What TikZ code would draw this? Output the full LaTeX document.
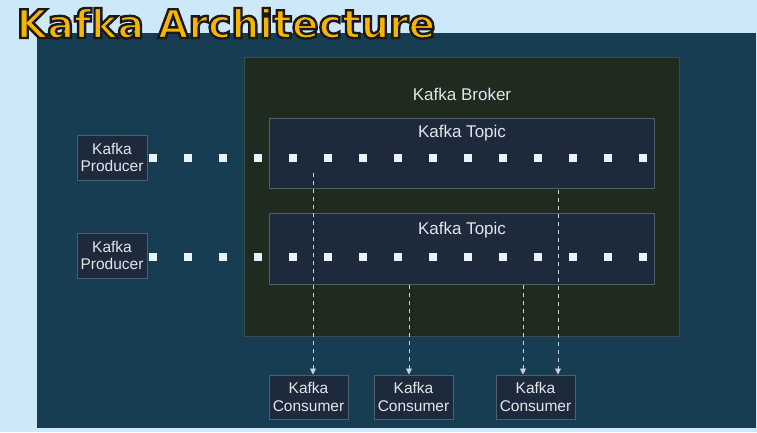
\documentclass[tikz,border=0pt]{standalone}
\usepackage{fontspec}
\setmainfont{Liberation Sans}
\newfontfamily\titlefont{DejaVu Sans}
\usetikzlibrary{arrows.meta,calc}
\definecolor{bgsky}{HTML}{CDE8F8}
\definecolor{panel}{HTML}{163D52}
\definecolor{broker}{HTML}{1F2B1F}
\definecolor{boxfill}{HTML}{1C2A3C}
\definecolor{boxline}{HTML}{4E5F6E}
\definecolor{txt}{HTML}{E2E6EA}
\definecolor{dotc}{HTML}{EAF2FA}
\definecolor{arrowc}{HTML}{C9D3DC}
\definecolor{titley}{HTML}{F7B500}
\tikzset{
  smallbox/.style={draw=boxline, line width=1pt, fill=boxfill, text=txt, align=center, inner sep=2pt, font=\fontsize{15.5}{17.5}\selectfont},
  msg/.style={fill=dotc, minimum size=8pt, inner sep=0pt, draw=none},
  cons/.style={draw=arrowc, line width=0.9pt, dash pattern=on 4pt off 4pt, -{Triangle[length=6pt,width=6pt]}},
  lbl/.style={text=txt, font=\fontsize{17}{19}\selectfont},
}
\begin{document}
\begin{tikzpicture}[x=1pt,y=-1pt]
\fill[bgsky] (0,0) rectangle (757,432);
\useasboundingbox (0,0) rectangle (757,432);
% panel
\fill[panel] (37,33) rectangle (756,428);
% broker
\node[draw=boxline!60!broker, line width=1pt, fill=broker, minimum width=435pt, minimum height=279pt, anchor=north west, inner sep=0pt] (broker) at (244,57) {};
\node[lbl] (brokerlbl) at (462,94) {Kafka Broker};
% topics
\node[draw=boxline, line width=1pt, fill=boxfill, minimum width=385pt, minimum height=70pt, anchor=north west, inner sep=0pt] (topic1) at (269,118) {};
\node[draw=boxline, line width=1pt, fill=boxfill, minimum width=385pt, minimum height=71pt, anchor=north west, inner sep=0pt] (topic2) at (269,213) {};
\node[lbl] (t1lbl) at (462,133) {Kafka Topic};
\node[lbl] (t2lbl) at (462,230) {Kafka Topic};
% producers
\node[smallbox, minimum width=70pt, minimum height=45pt] (prod1) at (112,157.5) {Kafka\\Producer};
\node[smallbox, minimum width=70pt, minimum height=45pt] (prod2) at (112,255.5) {Kafka\\Producer};
% messages
\foreach \i in {0,...,14}{
  \node[msg] (ma\i) at (153+35*\i,158) {};
  \node[msg] (mb\i) at (153+35*\i,257) {};
}
% consumers
\node[smallbox, minimum width=79pt, minimum height=44pt] (cons1) at (308.5,397) {Kafka\\Consumer};
\node[smallbox, minimum width=79pt, minimum height=44pt] (cons2) at (413.5,397) {Kafka\\Consumer};
\node[smallbox, minimum width=79pt, minimum height=44pt] (cons3) at (535.5,397) {Kafka\\Consumer};
% arrow starts
\coordinate (s1) at (313,173);
\coordinate (s2) at (409,285);
\coordinate (s3) at (523,285);
\coordinate (s4) at (558,190);
\draw[cons] (s1) -- (s1 |- cons1.north);
\draw[cons] (s2) -- (s2 |- cons2.north);
\draw[cons] (s3) -- (s3 |- cons3.north);
\draw[cons] (s4) -- (s4 |- cons3.north);
% title (yellow text with dark outline)
\node[anchor=base, inner sep=0pt, font=\titlefont\bfseries\fontsize{39.5}{42}\selectfont] (title) at (226,38)
  {\color{titley}\special{pdf:literal direct 0.1 0.1 0.1 RG 2 Tr 2.4 w}Kafka Architecture\special{pdf:literal direct 0 Tr}};
\end{tikzpicture}
\end{document}
